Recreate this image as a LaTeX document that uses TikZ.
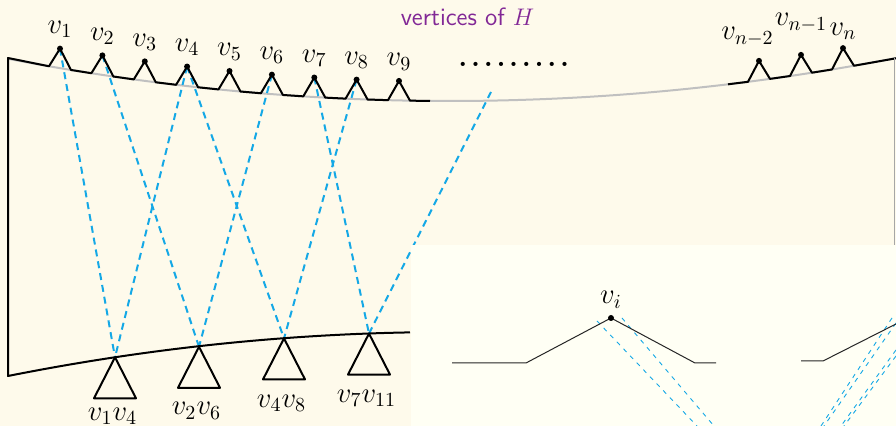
\documentclass[tikz,border=0pt]{standalone}
\usetikzlibrary{calc}
\definecolor{bgcream}{RGB}{254,250,235}
\definecolor{panelbg}{RGB}{255,255,244}
\definecolor{linkblue}{RGB}{20,168,230}
\definecolor{hpurple}{RGB}{130,40,150}
\definecolor{curvegray}{RGB}{192,192,192}
\begin{document}
\begin{tikzpicture}[x=0.5pt,y=-0.5pt,
  edge/.style={line width=1pt, black, line join=round},
  basecurve/.style={line width=1pt, curvegray},
  link/.style={line width=1pt, linkblue, dash pattern=on 3.5pt off 2.5pt},
  thinlink/.style={line width=0.45pt, linkblue, dash pattern=on 2.2pt off 2.6pt},
  thinedge/.style={line width=0.5pt, black!85, line join=round},
  vlabel/.style={font=\fontsize{14.4}{17}\selectfont, anchor=base, inner sep=0pt},
]
\fill[bgcream] (0,0) rectangle (896,426);
\useasboundingbox (0,0) rectangle (896,426);

% base curve of H
\draw[basecurve] plot[domain=8:896, samples=90, smooth] (\x, {101-2.16*((\x-450)/100)^2});

% gadget positions
\foreach \i/\x in {1/60, 2/102.4, 3/144.8, 4/187.1, 5/229.5, 6/271.9, 7/314.3, 8/356.6, 9/399, n2/759, n1/801, n/843} {
  \pgfmathsetmacro\ya{101-2.16*((\x-450)/100)^2-19.5}
  \pgfmathsetmacro\yl{101-2.16*((\x-11-450)/100)^2}
  \pgfmathsetmacro\yr{101-2.16*((\x+11-450)/100)^2}
  \coordinate (v\i) at (\x,\ya);
  \coordinate (l\i) at (\x-11,\yl);
  \coordinate (r\i) at (\x+11,\yr);
}

\coordinate (tl) at (8,58);
\coordinate (te) at (430,101);
\coordinate (ts) at (728,84.3);
\coordinate (tr) at (896,58.3);
\coordinate (bl) at (8,376);
\coordinate (br) at (410,332.4);

% bottom triangles apexes
\coordinate (A1) at (115,357.3);
\coordinate (A2) at (199,346.8);
\coordinate (A3) at (284,338.4);
\coordinate (A4) at (369,333.6);
\coordinate (e11) at (491,92);

% dashed links
\draw[link] (v1) -- (A1);
\draw[link] (v4) -- (A1);
\draw[link] (v2) -- (A2);
\draw[link] (v6) -- (A2);
\draw[link] (v4) -- (A3);
\draw[link] (v8) -- (A3);
\draw[link] (v7) -- (A4);
\draw[link] (A4) -- (e11);

% outline of left part
\draw[edge] (br) .. controls (276,334.77) and (142,349.31) .. (bl) -- (tl)
  -- (l1) -- (v1) -- (r1) -- (l2) -- (v2) -- (r2) -- (l3) -- (v3) -- (r3)
  -- (l4) -- (v4) -- (r4) -- (l5) -- (v5) -- (r5) -- (l6) -- (v6) -- (r6)
  -- (l7) -- (v7) -- (r7) -- (l8) -- (v8) -- (r8) -- (l9) -- (v9) -- (r9) -- (te);
\draw[edge] (ts) -- (ln2) -- (vn2) -- (rn2) -- (ln1) -- (vn1) -- (rn1) -- (ln) -- (vn) -- (rn) -- (tr);

% right vertical border
\coordinate (rb) at (894.5,245);
\draw[line width=0.6pt, black!35] (894.5,58.5) -- (rb);

% vertex dots and labels
\foreach \i in {1,2,3,4,5,6,7,8,9,n2,n1,n} \fill (v\i) circle (1.5pt);
\foreach \i in {1,...,9} \node[vlabel] (lab\i) at ($(v\i)+(0,-15)$) {$v_{\i}$};
\node[vlabel] (labn2) at ($(vn2)+(-11.5,-21)$) {$v_{n-2}$};
\node[vlabel] (labn1) at ($(vn1)+(0,-29)$) {$v_{n-1}$};
\node[vlabel] (labn) at ($(vn)+(0,-13)$) {$v_n$};

% bottom triangles
\foreach \k in {1,2,3,4} \draw[edge] (A\k) -- ++(-21,41) -- ++(42,0) -- cycle;
\node[vlabel] (t1) at ($(A1)+(-2.5,63)$) {$v_1v_4$};
\node[vlabel] (t2) at ($(A2)+(-2.5,68)$) {$v_2v_6$};
\node[vlabel] (t3) at ($(A3)+(-2.5,69)$) {$v_4v_8$};
\node[vlabel] (t4) at ($(A4)+(-2.5,69)$) {$v_7v_{11}$};

% title and dots
\node[font=\fontsize{12.5}{15}\selectfont\sffamily, text=hpurple, anchor=base, inner sep=0pt] (title) at (467.5,26) {vertices of $H$};
\node[font=\fontsize{14.4}{17}\selectfont\bfseries, anchor=base west, inner sep=0pt] (dots) at (458,67) {.\kern1.85pt.\kern1.85pt.\kern1.85pt.\kern1.85pt.\kern1.85pt.\kern1.85pt.\kern1.85pt.\kern1.85pt.};

% inset panel
\fill[panelbg] (411,245) rectangle (896,426);
\coordinate (p1) at (452,363);
\coordinate (p2) at (526,363);
\coordinate (vi) at (611,318);
\coordinate (p3) at (695,363);
\coordinate (p4) at (716,363);
\coordinate (q1) at (801,361);
\coordinate (q2) at (823,361);
\coordinate (q3) at (896,324);
\coordinate (d1a) at (597,321);
\coordinate (d1b) at (697,426);
\coordinate (d2a) at (622,318);
\coordinate (d2b) at (714,426);
\coordinate (a1a) at (892,318);
\coordinate (a1b) at (821,426);
\coordinate (a2a) at (896,323);
\coordinate (a2b) at (824,426);
\coordinate (b1a) at (896,350);
\coordinate (b1b) at (841,426);
\coordinate (b2a) at (896,356);
\coordinate (b2b) at (844,426);
\draw[thinlink] (d1a) -- (d1b);
\draw[thinlink] (d2a) -- (d2b);
\draw[thinlink] (a1a) -- (a1b);
\draw[thinlink] (a2a) -- (a2b);
\draw[thinlink] (b1a) -- (b1b);
\draw[thinlink] (b2a) -- (b2b);
\draw[thinedge] (p1) -- (p2) -- (vi) -- (p3) -- (p4);
\draw[thinedge] (q1) -- (q2) -- (q3);
\fill (vi) circle (1.5pt);
\node[vlabel] (labi) at ($(vi)+(0,-14)$) {$v_i$};
\end{tikzpicture}
\end{document}
